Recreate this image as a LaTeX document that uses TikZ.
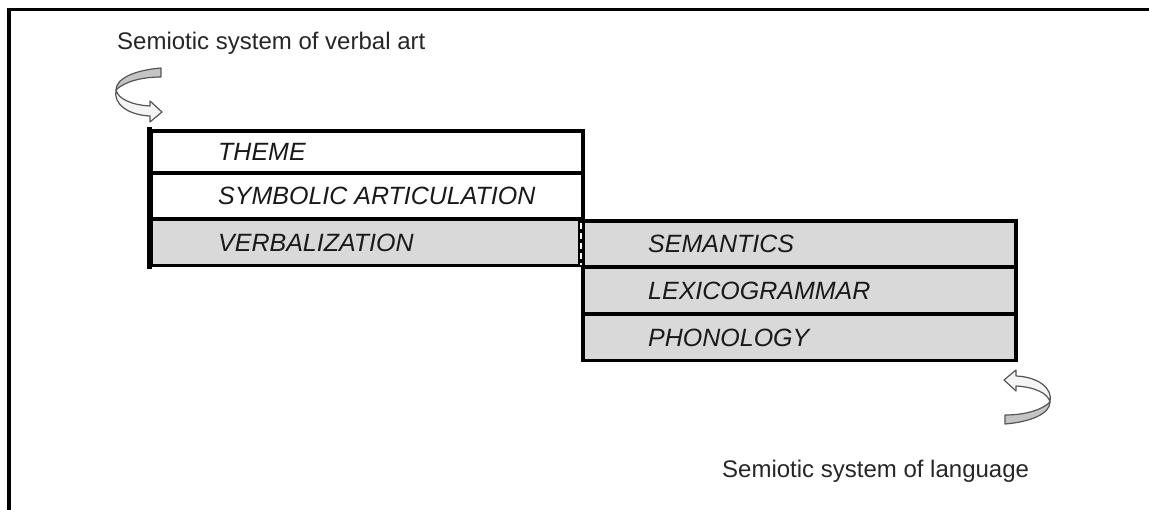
\documentclass[tikz,border=0pt]{standalone}
\usepackage{fontspec}
\setmainfont{Liberation Sans}
\usetikzlibrary{calc}

\definecolor{stratum}{HTML}{D9D9D9}
\definecolor{ribbonback}{HTML}{C4C4C4}
\definecolor{ribbonfront}{HTML}{F4F4F4}
\definecolor{ribbonedge}{HTML}{555555}

\tikzset{
  layer/.style={draw=black, line width=3.5pt, rectangle, inner sep=0pt,
    minimum width=432pt, minimum height=#1},
  layer/.default=46pt,
  shaded/.style={fill=stratum},
  layername/.style={font=\fontsize{25}{29}\selectfont\itshape, inner sep=0pt,
    anchor=base west, text=black!90},
  caption/.style={font=\fontsize{24}{28}\selectfont, inner sep=0pt,
    anchor=base west, text=black!85},
  % turning ribbon arrow, drawn around its twist point
  turnarrow/.pic={
    \path[fill=ribbonback, draw=ribbonedge, line width=1.2pt, line join=round]
      (45,-22) .. controls (20,-20) and (0,-12) .. (0,0)
      .. controls (8,-8) and (25,-13) .. (45,-13) -- cycle;
    \path[fill=ribbonfront, draw=ribbonedge, line width=1.2pt, line join=round]
      (0,0) .. controls (2,9) and (16,15) .. (34,16) -- (34,11) -- (46,22)
      -- (34,32) -- (34,26) .. controls (12,25) and (-3,14) .. (0,0) -- cycle;
  }
}

\begin{document}
\begin{tikzpicture}[x=1pt, y=-1pt]
  \useasboundingbox (0,0) rectangle (1149,510);

  % frame
  \draw[line width=3.5pt] (9,512) -- (9,9.5) -- (1152,9.5);

  % strata of verbal art
  \node[layer=42pt] (theme) at (367,152) {};
  \node[layer] (symart) at (367,196) {};
  \node[layer, shaded] (verbal) at (367,242.5) {};

  % strata of language
  \node[layer, shaded, minimum width=433pt] (sem) at (799.5,244) {};
  \node[layer, shaded, minimum width=433pt] (lexgram) at (799.5,290.5) {};
  \node[layer, shaded, minimum width=433pt] (phon) at (799.5,337.5) {};

  % heavier left edge of the upper block
  \draw[line width=5.5pt] ($(theme.north west)+(0,-1.75)$) -- ($(verbal.south west)+(0,1.75)$);

  % shared stratum: broken seam between verbalization and semantics
  \draw[line width=6pt] ($(sem.north west)+(0,1.75)$) -- ($(sem.south west)+(0,-1.75)$);
  \draw[white, line width=2pt, dash pattern=on 6pt off 4pt]
    ($(sem.north west)+(0,4)$) -- ($(sem.south west)+(0,-4)$);

  % stratum names
  \node[layername] (tthem) at (218,161) {THEME};
  \node[layername] (tsym) at (218,205) {SYMBOLIC ARTICULATION};
  \node[layername] (tverb) at (218,251.5) {VERBALIZATION};
  \node[layername] (tsem) at (648,253) {SEMANTICS};
  \node[layername] (tlex) at (648,299.5) {LEXICOGRAMMAR};
  \node[layername] (tphon) at (648,346.5) {PHONOLOGY};

  % system captions
  \node[caption] (artcap) at (117,49.5) {Semiotic system of verbal art};
  \node[caption] (langcap) at (722,477.5) {Semiotic system of language};

  % turning arrows
  \pic at (116,90) {turnarrow};
  \pic[rotate=180] at (1050,402) {turnarrow};
\end{tikzpicture}
\end{document}
